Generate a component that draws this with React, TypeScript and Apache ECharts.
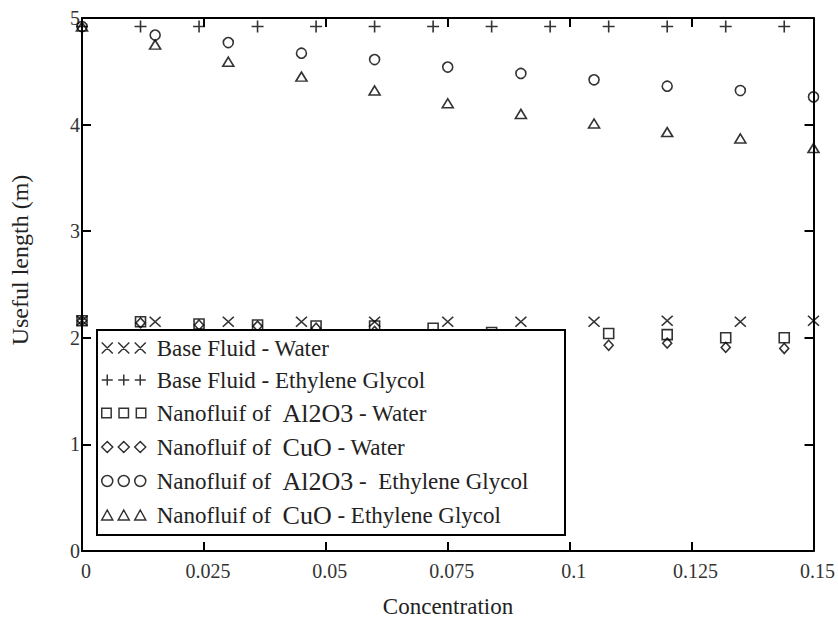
import React, { useEffect, useRef } from "react";
import * as echarts from "echarts";

// x positions (concentration)
const xStep015 = [0, 0.015, 0.03, 0.045, 0.06, 0.075, 0.09, 0.105, 0.12, 0.135, 0.15];
const xStep012 = [0, 0.012, 0.024, 0.036, 0.048, 0.06, 0.072, 0.084, 0.096, 0.108, 0.12, 0.132, 0.144];

// series values (useful length, m)
const baseWater = [2.16, 2.15, 2.15, 2.15, 2.15, 2.15, 2.15, 2.15, 2.16, 2.15, 2.16];
const baseEG = [4.92, 4.92, 4.92, 4.92, 4.92, 4.92, 4.92, 4.92, 4.92, 4.92, 4.92, 4.92, 4.92];
const al2o3Water = [2.16, 2.15, 2.13, 2.12, 2.11, 2.11, 2.09, 2.05, 2.02, 2.04, 2.03, 2.0, 2.0];
const cuoWater = [2.16, 2.14, 2.12, 2.11, 2.09, 2.06, 2.03, 2.0, 1.97, 1.93, 1.95, 1.91, 1.9];
const al2o3EG = [4.92, 4.84, 4.77, 4.67, 4.61, 4.54, 4.48, 4.42, 4.36, 4.32, 4.26];
const cuoEG = [4.92, 4.75, 4.59, 4.45, 4.32, 4.2, 4.1, 4.01, 3.93, 3.87, 3.78];

const seriesNames = [
  "Base Fluid - Water",
  "Base Fluid - Ethylene Glycol",
  "Nanofluif of  Al2O3 - Water",
  "Nanofluif of  CuO - Water",
  "Nanofluif of  Al2O3 -  Ethylene Glycol",
  "Nanofluif of  CuO - Ethylene Glycol",
];

const xTickLabels = ["0", "0.025", "0.05", "0.075", "0.1", "0.125", "0.15"];
const yTickLabels = ["0", "1", "2", "3", "4", "5"];

const FONT = "Liberation Serif";

function triple(fn: (ox: number) => string): string {
  return "path://" + [0, 16.5, 33].map(fn).join(" ");
}

const iconCross = triple((o) => `M${o},0L${o + 11},11M${o + 11},0L${o},11`);
const iconPlus = triple((o) => `M${o + 5.5},0L${o + 5.5},11M${o},5.5L${o + 11},5.5`);
const iconSquare = triple((o) => `M${o + 1},1L${o + 10},1L${o + 10},10L${o + 1},10Z`);
const iconDiamond = triple((o) => `M${o + 5.5},0L${o + 11},5.5L${o + 5.5},11L${o},5.5Z`);
const iconCircle = triple(
  (o) => `M${o},5.5A5.5,5.5,0,1,1,${o + 11},5.5A5.5,5.5,0,1,1,${o},5.5Z`
);
const iconTriangle = triple((o) => `M${o + 5.5},0.5L${o + 11},10.5L${o},10.5Z`);

const legendIcons = [iconCross, iconPlus, iconSquare, iconDiamond, iconCircle, iconTriangle];

const pair = (xs: number[], ys: number[]) => ys.map((y, i) => [xs[i], y]);

export default function App() {
  const ref = useRef<HTMLDivElement>(null);
  useEffect(() => {
    document.body.style.margin = "0";
    if (!ref.current) return;
    const chart = echarts.init(ref.current, null, { renderer: "svg" });

    const strokeStyle = { color: "transparent", borderColor: "#000", borderWidth: 1.6 };

    const mk = (name: string, data: number[][], symbol: string, size: any) => ({
      name,
      type: "scatter",
      data,
      symbol,
      symbolSize: size,
      itemStyle: strokeStyle,
      emphasis: { disabled: true },
      xAxisIndex: 0,
      yAxisIndex: 0,
    });

    const axisLine = { show: true, onZero: false, lineStyle: { color: "#000", width: 2 } };
    const axisTick = { show: true, inside: true, length: 9, lineStyle: { color: "#000", width: 2 } };

    chart.setOption({
      animation: false,
      textStyle: { fontFamily: FONT },
      grid: { left: 82, top: 18, right: 23, bottom: 75, containLabel: false },
      xAxis: [
        {
          type: "value",
          min: 0,
          max: 0.15,
          interval: 0.025,
          position: "bottom",
          axisLine,
          axisTick,
          splitLine: { show: false },
          axisLabel: {
            margin: 10,
            color: "#333",
            fontFamily: FONT,
            fontSize: 20,
            padding: [0, 0, 0, 8],
            formatter: (v: number) => xTickLabels[Math.round(v / 0.025)] ?? "",
          },
        },
        {
          type: "value",
          min: 0,
          max: 0.15,
          interval: 0.025,
          position: "top",
          axisLine,
          axisTick,
          splitLine: { show: false },
          axisLabel: { show: false },
        },
      ],
      yAxis: [
        {
          type: "value",
          min: 0,
          max: 5,
          interval: 1,
          position: "left",
          axisLine,
          axisTick,
          splitLine: { show: false },
          axisLabel: {
            margin: 2,
            color: "#333",
            fontFamily: FONT,
            fontSize: 20,
            padding: [8, 0, 0, 0],
            formatter: (v: number) => yTickLabels[Math.round(v)] ?? "",
          },
        },
        {
          type: "value",
          min: 0,
          max: 5,
          interval: 1,
          position: "right",
          axisLine,
          axisTick,
          splitLine: { show: false },
          axisLabel: { show: false },
        },
      ],
      legend: {
        orient: "vertical",
        left: 101,
        top: 336,
        padding: 0,
        itemGap: 8,
        itemWidth: 44,
        itemHeight: 11,
        selectedMode: false,
        z: 10,
        itemStyle: { color: "transparent", borderColor: "#000", borderWidth: 1.5 },
        formatter: (name: string) => name.replace(/(Al2O3|CuO)/, "{c|$1}"),
        textStyle: {
          fontFamily: FONT,
          fontSize: 23,
          color: "#222",
          lineHeight: 24,
          padding: [0, 0, 0, 6],
          rich: {
            c: { fontFamily: FONT, fontSize: 26, color: "#222", lineHeight: 24 },
          },
        },
        data: seriesNames.map((n, i) => ({ name: n, icon: legendIcons[i] })),
      },
      graphic: [
        {
          type: "rect",
          z: 5,
          shape: { x: 97, y: 330, width: 468, height: 205 },
          style: { fill: "#fff", stroke: "#000", lineWidth: 2 },
        },
        {
          type: "text",
          x: 20,
          y: 260,
          rotation: Math.PI / 2,
          style: {
            text: "Useful length (m)",
            fontFamily: FONT,
            fontSize: 24,
            fill: "#222",
            align: "center",
            verticalAlign: "middle",
          },
        },
        {
          type: "text",
          x: 448,
          y: 606,
          style: {
            text: "Concentration",
            fontFamily: FONT,
            fontSize: 23,
            fill: "#222",
            align: "center",
            verticalAlign: "middle",
          },
        },
      ],
      series: [
        mk(seriesNames[0], pair(xStep015, baseWater), "path://M0,0L10,10M10,0L0,10", [11, 10]),
        mk(seriesNames[1], pair(xStep012, baseEG), "path://M5,0L5,10M0,5L10,5", 12),
        mk(seriesNames[2], pair(xStep012, al2o3Water), "rect", 10),
        mk(seriesNames[3], pair(xStep012, cuoWater), "diamond", [9, 10]),
        mk(seriesNames[4], pair(xStep015, al2o3EG), "circle", 10),
        mk(seriesNames[5], pair(xStep015, cuoEG), "triangle", [11, 9]),
      ],
    });
    return () => chart.dispose();
  }, []);
  return <div ref={ref} style={{ width: 838, height: 626 }} />;
}
